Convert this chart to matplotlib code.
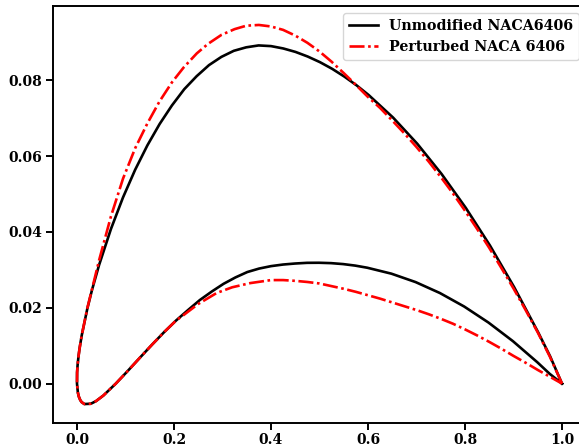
import matplotlib
matplotlib.use("Agg")
from matplotlib import pyplot as plt

# unmodified NACA 6406, upper and lower surface (leading edge -> trailing edge)
base_upper_x = [0.0, 0.0002, 0.00126, 0.00327, 0.0054, 0.00986, 0.02146, 0.03098, 0.04549, 0.07003,
	0.09486, 0.11989, 0.14508, 0.17037, 0.19575, 0.22118, 0.24668, 0.2722, 0.29776, 0.32332,
	0.34889, 0.37445, 0.4, 0.42524, 0.45047, 0.47568, 0.50088, 0.52607, 0.55124, 0.57639,
	0.60152, 0.65172, 0.70182, 0.75183, 0.80173, 0.85152, 0.90119, 0.95073, 0.97544, 1.0]
base_upper_y = [0.0, 0.00296, 0.00493, 0.00734, 0.00935, 0.01278, 0.01986, 0.02472, 0.03126, 0.04079,
	0.0491, 0.0564, 0.06283, 0.06847, 0.07337, 0.07766, 0.08108, 0.08401, 0.08618, 0.08778,
	0.0887, 0.0892, 0.08902, 0.0884, 0.08749, 0.08627, 0.08479, 0.08303, 0.08098, 0.07868,
	0.0761, 0.07017, 0.06323, 0.05527, 0.04633, 0.03641, 0.02547, 0.01355, 0.00722, 0.0]
base_lower_x = [0.0, 0.0018, 0.00374, 0.00673, 0.0096, 0.01514, 0.02854, 0.03902, 0.05451, 0.07997,
	0.10514, 0.13011, 0.15492, 0.17963, 0.20425, 0.22882, 0.25332, 0.2778, 0.30224, 0.32668,
	0.35111, 0.37555, 0.4, 0.42476, 0.44953, 0.47432, 0.49912, 0.52393, 0.54876, 0.57361,
	0.59848, 0.64828, 0.69818, 0.74817, 0.79827, 0.84848, 0.89881, 0.94927, 0.97456, 1.0]
base_lower_y = [0.0, -0.00236, -0.00343, -0.00436, -0.00489, -0.0054, -0.00532, -0.00464, -0.00314, -0.00001,
	0.0034, 0.00688, 0.01029, 0.01357, 0.01663, 0.01938, 0.02204, 0.02427, 0.02632, 0.028,
	0.02942, 0.03034, 0.03098, 0.0314, 0.03167, 0.03185, 0.03187, 0.03177, 0.03152, 0.03112,
	0.03056, 0.02899, 0.02677, 0.02389, 0.02033, 0.01609, 0.01119, 0.00561, 0.00258, 0.0]

# perturbed NACA 6406
pert_upper_x = [0.0, 0.0002, 0.00126, 0.00327, 0.0054, 0.00986, 0.0215, 0.035, 0.0455, 0.07,
	0.095, 0.12, 0.145, 0.17, 0.196, 0.22, 0.247, 0.27, 0.298, 0.325,
	0.349, 0.375, 0.4, 0.425, 0.45, 0.475, 0.5, 0.525, 0.55, 0.575,
	0.6, 0.625, 0.65, 0.675, 0.7, 0.725, 0.75, 0.775, 0.8, 0.825,
	0.85, 0.875, 0.9, 0.925, 0.95, 0.975, 1.0]
pert_upper_y = [0.0, 0.00296, 0.00493, 0.00734, 0.00935, 0.01278, 0.02, 0.027, 0.0325, 0.0441,
	0.0541, 0.0621, 0.0686, 0.0744, 0.0795, 0.0834, 0.0871, 0.0896, 0.092, 0.0935,
	0.0944, 0.0946, 0.0942, 0.0933, 0.0918, 0.0899, 0.0876, 0.0849, 0.0819, 0.0788,
	0.0756, 0.0727, 0.0694, 0.066, 0.0624, 0.0586, 0.0545, 0.0502, 0.0456, 0.0408,
	0.0358, 0.0305, 0.0251, 0.0194, 0.0135, 0.0071, 0.0]
pert_lower_x = [0.0, 0.0018, 0.00374, 0.00673, 0.0096, 0.01514, 0.02854, 0.03902, 0.05451, 0.07997,
	0.10514, 0.13011, 0.15492, 0.17963, 0.20425, 0.22, 0.25, 0.288, 0.32, 0.357,
	0.4, 0.425, 0.45, 0.475, 0.5, 0.525, 0.55, 0.575, 0.6, 0.625,
	0.65, 0.675, 0.7, 0.725, 0.75, 0.775, 0.8, 0.825, 0.85, 0.875,
	0.9, 0.925, 0.95, 0.975, 1.0]
pert_lower_y = [0.0, -0.00236, -0.00343, -0.00436, -0.00489, -0.0054, -0.00532, -0.00464, -0.00314, -0.00001,
	0.0034, 0.00688, 0.01029, 0.01357, 0.01663, 0.0181, 0.021, 0.0239, 0.0254, 0.0265,
	0.0273, 0.0273, 0.0271, 0.0268, 0.0264, 0.0257, 0.025, 0.0242, 0.0233, 0.0224,
	0.0214, 0.0204, 0.0194, 0.0183, 0.0171, 0.0158, 0.0143, 0.0127, 0.011, 0.0092,
	0.0073, 0.0055, 0.0036, 0.0018, 0.0]

labels = ["Unmodified NACA6406", "Perturbed NACA 6406"]


def contour(ux, uy, lx, ly):
	# trailing edge -> upper -> leading edge -> lower -> trailing edge
	return ux[::-1] + lx[1:], uy[::-1] + ly[1:]


plt.rcParams['font.family'] = 'DejaVu Serif'
plt.rcParams['font.weight'] = 'bold'

fig = plt.figure(figsize=(5.79, 4.48), dpi=100)
ax = fig.add_axes([0.0911, 0.0558, 0.9214, 0.9308])

bx, by = contour(base_upper_x, base_upper_y, base_lower_x, base_lower_y)
px, py = contour(pert_upper_x, pert_upper_y, pert_lower_x, pert_lower_y)
ax.plot(bx, by, color='black', lw=1.9, label=labels[0])
ax.plot(px, py, color='red', lw=1.9, dashes=(5.7, 1.35, 1.0, 1.35), label=labels[1])

ax.tick_params(length=5, width=1.4, labelsize=10, pad=2.5)
for s in ax.spines.values():
	s.set_linewidth(1.4)
ax.legend(loc='upper right', fontsize=10.3)

fig.savefig('out.png', dpi=100)
